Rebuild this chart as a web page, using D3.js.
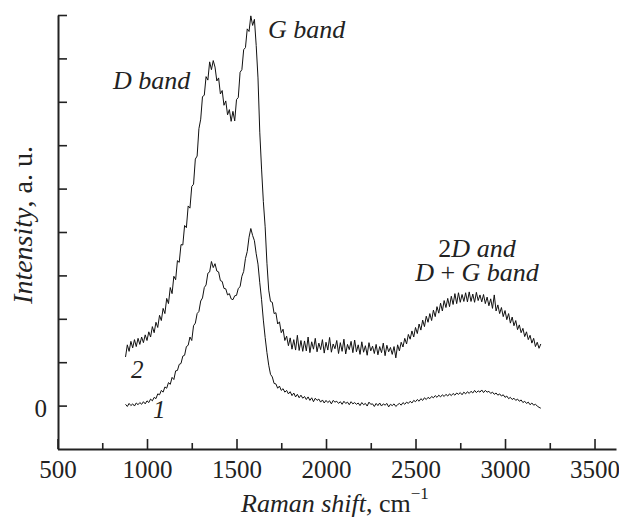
<!DOCTYPE html>
<html>
<head>
<meta charset="utf-8">
<script src="https://cdn.jsdelivr.net/npm/d3@7"></script>
</head>
<body style="margin:0">
<div id="wrap" style="font-family:'Liberation Serif';width:619px;height:517px"></div>
<script>
// Raman shift grid, cm-1 (one reading every 10 cm-1)
const shiftStart = 880, shiftEnd = 3200, shiftStep = 10;

// sample 1 (lower curve), a.u.
const sample1 = [
  0.03,-0.02,0.05,0.00,0.04,-0.01,0.06,0.02,0.07,0.03,
  0.09,0.04,0.11,0.07,0.15,0.11,0.19,0.16,0.27,0.25,
  0.35,0.31,0.43,0.40,0.53,0.49,0.65,0.60,0.80,0.81,
  0.95,0.97,1.14,1.16,1.36,1.39,1.58,1.50,1.84,1.90,
  2.12,2.17,2.41,2.48,2.72,2.78,3.05,3.08,3.32,3.18,
  3.27,3.10,3.08,2.88,2.86,2.70,2.69,2.55,2.58,2.46,
  2.44,2.53,2.54,2.70,2.74,2.98,3.09,3.39,3.55,3.88,
  4.08,3.92,3.80,3.50,3.26,2.83,2.44,1.97,1.57,1.22,
  0.93,0.72,0.66,0.51,0.50,0.40,0.45,0.35,0.39,0.31,
  0.35,0.27,0.32,0.23,0.29,0.20,0.26,0.18,0.24,0.17,
  0.21,0.14,0.20,0.12,0.18,0.09,0.17,0.12,0.15,0.08,
  0.13,0.06,0.12,0.07,0.11,0.04,0.12,0.08,0.10,0.05,
  0.09,0.03,0.10,0.05,0.08,0.02,0.09,0.04,0.07,0.03,
  0.06,0.00,0.07,0.02,0.05,-0.01,0.08,0.03,0.04,-0.02,
  0.05,0.00,0.06,-0.01,0.04,0.01,0.05,-0.03,0.03,0.00,
  0.04,-0.02,0.02,0.05,0.01,0.07,0.03,0.08,0.05,0.10,
  0.06,0.12,0.09,0.14,0.10,0.16,0.12,0.18,0.14,0.19,
  0.16,0.21,0.18,0.23,0.19,0.24,0.20,0.25,0.21,0.26,
  0.22,0.27,0.23,0.28,0.24,0.29,0.26,0.30,0.25,0.31,
  0.27,0.32,0.28,0.33,0.29,0.35,0.30,0.34,0.31,0.36,
  0.30,0.35,0.31,0.33,0.28,0.31,0.26,0.29,0.24,0.27,
  0.22,0.25,0.19,0.22,0.16,0.19,0.14,0.17,0.12,0.15,
  0.10,0.13,0.07,0.10,0.05,0.08,0.02,0.06,0.01,0.03,
  -0.01,-0.04,-0.06
];

// sample 2 (upper curve), a.u.
const sample2 = [
  1.12,1.40,1.25,1.48,1.33,1.52,1.36,1.55,1.41,1.58,
  1.45,1.63,1.50,1.70,1.58,1.82,1.68,1.92,1.80,2.08,
  1.96,2.24,2.12,2.47,2.35,2.72,2.58,2.98,2.90,3.34,
  3.30,3.71,3.70,4.15,4.10,4.60,4.55,5.05,5.10,5.68,
  5.75,6.38,6.60,7.12,7.15,7.58,7.50,7.92,7.74,7.95,
  7.80,7.48,7.55,7.18,7.26,6.92,7.02,6.70,6.82,6.55,
  6.78,6.56,7.05,7.10,7.68,7.74,8.20,8.25,8.68,8.62,
  8.98,8.76,8.90,8.30,7.55,6.30,5.45,4.70,4.12,3.28,
  2.66,2.40,2.38,2.12,2.14,1.88,1.93,1.68,1.76,1.50,
  1.60,1.38,1.56,1.30,1.52,1.28,1.62,1.27,1.50,1.25,
  1.49,1.26,1.58,1.22,1.47,1.30,1.55,1.24,1.44,1.29,
  1.52,1.21,1.46,1.28,1.57,1.23,1.42,1.31,1.50,1.20,
  1.45,1.25,1.53,1.19,1.41,1.29,1.48,1.22,1.51,1.24,
  1.40,1.18,1.47,1.23,1.38,1.16,1.45,1.26,1.37,1.20,
  1.41,1.17,1.36,1.22,1.44,1.15,1.39,1.24,1.34,1.18,
  1.36,1.10,1.40,1.26,1.46,1.35,1.55,1.42,1.64,1.53,
  1.72,1.58,1.80,1.66,1.88,1.74,1.97,1.82,2.06,1.92,
  2.12,1.96,2.20,2.05,2.28,2.13,2.36,2.18,2.42,2.26,
  2.47,2.28,2.52,2.33,2.58,2.35,2.60,2.38,2.56,2.40,
  2.60,2.39,2.62,2.40,2.57,2.38,2.61,2.42,2.55,2.39,
  2.56,2.35,2.50,2.30,2.46,2.24,2.55,2.18,2.32,2.12,
  2.26,2.05,2.19,1.98,2.12,1.90,2.04,1.84,1.96,1.75,
  1.86,1.68,1.78,1.59,1.70,1.52,1.62,1.44,1.55,1.36,
  1.46,1.32,1.42
];

// axis ticks
const xTicks = [500, 1000, 1500, 2000, 2500, 3000, 3500];
const xMinorTicks = [750, 1250, 1750, 2250, 2750, 3250];
const yTicks = [0, 1, 2, 3, 4, 5, 6, 7, 8, 9];
const yTickLabels = ['0', '', '', '', '', '', '', '', '', ''];

const shifts = d3.range(shiftStart, shiftEnd + 1, shiftStep);

const svg = d3.select('#wrap').append('svg')
    .attr('width', 619).attr('height', 517)
    .style('display', 'block')
    .style('font-family', "'Liberation Serif'");

const x = d3.scaleLinear().domain([500, 3620]).range([57.5, 616]);
const y = d3.scaleLinear().domain([-1, 9]).range([449, 15]);

// x axis: major + minor ticks pointing inward
const xAxis = svg.append('g').attr('transform', 'translate(0,449)')
    .call(d3.axisBottom(x).tickValues(xTicks).tickSize(-10).tickSizeOuter(0).tickFormat(d3.format('d')));
svg.append('g').attr('transform', 'translate(0,449)')
    .call(d3.axisBottom(x).tickValues(xMinorTicks).tickSize(-6).tickSizeOuter(0).tickFormat(''))
    .select('.domain').remove();

const yAxis = svg.append('g').attr('transform', 'translate(58,0)')
    .call(d3.axisLeft(y).tickValues(yTicks).tickSize(-9).tickSizeOuter(0)
        .tickFormat((d, i) => yTickLabels[i]).tickPadding(11));

svg.selectAll('g').attr('font-family', null).attr('font-size', null);
svg.selectAll('.domain').attr('stroke', '#222').attr('stroke-width', 2);
svg.selectAll('.tick line').attr('stroke', '#222').attr('stroke-width', 1.6);
svg.selectAll('.tick text').attr('font-size', 25);
xAxis.selectAll('.tick text').attr('y', 29).attr('dy', 0);
yAxis.selectAll('.tick text').attr('dy', '0.42em');

// spectra
const line = d3.line()
    .x((d, i) => x(shifts[i]))
    .y(d => y(d));

svg.append('path').datum(sample1)
    .attr('fill', 'none').attr('stroke', '#111').attr('stroke-width', 1)
    .attr('d', line);
svg.append('path').datum(sample2)
    .attr('fill', 'none').attr('stroke', '#111').attr('stroke-width', 1)
    .attr('d', line);

// text helper: pieces of [string, italic]
function label(px, py, size, parts, anchor) {
    const t = svg.append('text').attr('x', px).attr('y', py)
        .attr('font-size', size).attr('text-anchor', anchor || 'start');
    parts.forEach(p => {
        t.append('tspan').attr('font-style', p[1] ? 'italic' : 'normal').text(p[0]);
    });
    return t;
}

// axis titles
const xt = label(241, 512, 26, [['Raman shift', true], [', cm', false]]);
xt.append('tspan').attr('font-size', 17).attr('dy', -13).text('\u22121');

label(0, 0, 28, [['Intensity', true], [', a. u.', false]], 'middle')
    .attr('transform', 'translate(32,225) rotate(-90)');

// band annotations
label(113, 89, 26, [['D band', true]]);
label(268, 38, 26, [['G band', true]]);
label(477, 257, 26, [['2', false], ['D and', true]], 'middle');
label(477, 281, 26, [['D', true], [' + ', false], ['G band', true]], 'middle');

// curve numbers
label(131, 378, 25, [['2', true]]);
label(153, 418, 25, [['1', true]]);

svg.selectAll('text').attr('fill', '#222');
</script>
</body>
</html>
